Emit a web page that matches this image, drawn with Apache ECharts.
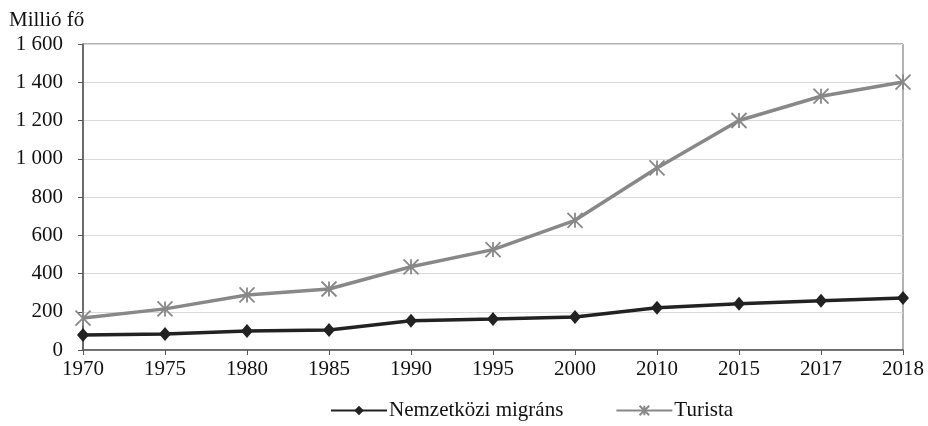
<!DOCTYPE html>
<html><head><meta charset="utf-8">
<script src="https://cdn.jsdelivr.net/npm/echarts@6/dist/echarts.min.js"></script>
<style>html,body{margin:0;padding:0;background:#fff}#c{width:928px;height:426px}</style>
</head><body><div id="c"></div>
<script>
const years = ['1970','1975','1980','1985','1990','1995','2000','2010','2015','2017','2018'];
const migrants = [78, 84, 99, 105, 153, 162, 173, 221, 242, 257, 272];
const tourists = [167, 215, 288, 319, 435, 525, 678, 952, 1200, 1327, 1401];
const yTicks = [0, 200, 400, 600, 800, 1000, 1200, 1400, 1600];

const font = 'Liberation Serif';
const star = 'path://M0,0 L10,10 M10,0 L0,10 M5,0 L5,10';
const chart = echarts.init(document.getElementById('c'));
chart.setOption({
  animation: false,
  textStyle: {fontFamily: font},
  title: {text: 'Millió fő', left: 4, top: 5, textStyle: {fontFamily: font, fontSize: 21, fontWeight: 'normal', color: '#111'}},
  grid: {left: 83, right: 25, top: 44, bottom: 76, show: true, borderColor: '#666', borderWidth: 1},
  legend: {
    left: 325, bottom: 0, itemGap: 52, itemWidth: 56, itemHeight: 12,
    textStyle: {fontFamily: font, fontSize: 21, color: '#111', padding: [0, 0, 0, -3]},
    data: ['Nemzetközi migráns', 'Turista']
  },
  xAxis: {
    type: 'category', data: years, boundaryGap: false,
    axisLine: {lineStyle: {color: '#555', width: 1.5}},
    axisTick: {show: true, length: 5, lineStyle: {color: '#555'}},
    axisLabel: {fontFamily: font, fontSize: 21, color: '#111', margin: 9}
  },
  yAxis: {
    type: 'value', min: 0, max: 1600, interval: 200,
    axisLine: {show: true, lineStyle: {color: '#555', width: 1.5}},
    axisTick: {show: true, length: 5, lineStyle: {color: '#555'}},
    splitLine: {lineStyle: {color: '#d9d9d9'}},
    axisLabel: {fontFamily: font, fontSize: 21, color: '#111', margin: 20,
      formatter: v => String(v).replace(/\B(?=(\d{3})+(?!\d))/g, ' ')}
  },
  series: [
    {name: 'Nemzetközi migráns', type: 'line', data: migrants, symbol: 'diamond', symbolSize: [12, 14],
     color: '#222', lineStyle: {color: '#222', width: 3.5}, itemStyle: {color: '#222'}},
    {name: 'Turista', type: 'line', data: tourists, symbol: star, symbolSize: 15, symbolKeepAspect: true,
     color: '#888', lineStyle: {color: '#888', width: 3.5},
     itemStyle: {color: 'none', borderColor: '#888', borderWidth: 1.8}}
  ]
});
</script></body></html>
